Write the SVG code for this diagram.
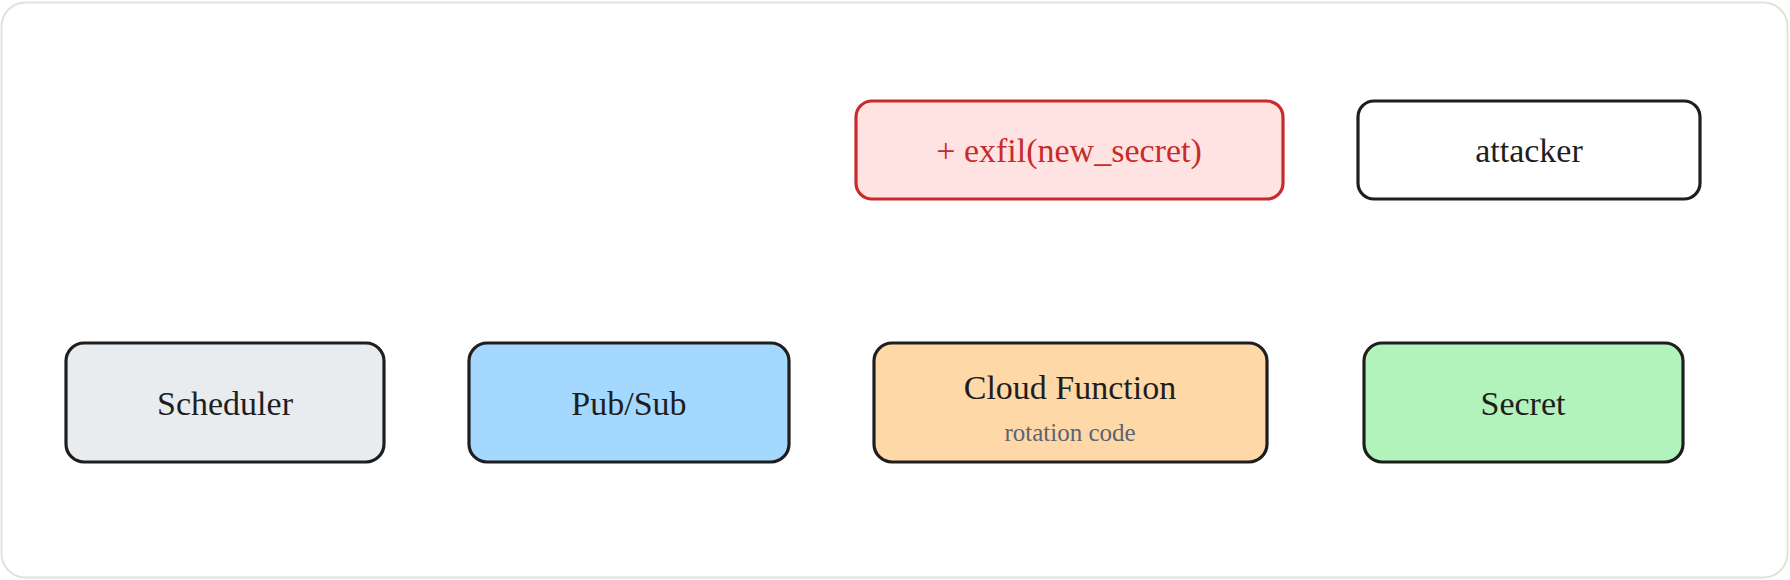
<svg xmlns="http://www.w3.org/2000/svg" width="1790" height="580" viewBox="0 0 1790 580">
<style>
.n{stroke:#1e1e1e;stroke-width:3.2}
.t{font-family:"Liberation Serif",serif;font-size:34px;fill:#1e1e1e;text-anchor:middle;dominant-baseline:central}
.s{font-family:"Liberation Serif",serif;font-size:25px;fill:#5c6470;text-anchor:middle;dominant-baseline:central}
</style>
<rect x="1.5" y="2.5" width="1786" height="575" rx="24" fill="#fff" stroke="#e2e2da" stroke-width="2"/>
<g id="connectors"></g>
<g id="exfil"><rect x="856" y="101" width="427" height="98" rx="16" fill="#ffe3e3" stroke="#c92a2a" stroke-width="3.2"/><text class="t" x="1069" y="150" style="fill:#c92a2a">+ exfil(new_secret)</text></g>
<g id="attacker"><rect class="n" x="1358" y="101" width="342" height="98" rx="16" fill="#fff"/><text class="t" x="1529" y="150">attacker</text></g>
<g id="scheduler"><rect class="n" x="66" y="343" width="318" height="119" rx="18" fill="#e9ecef"/><text class="t" x="225" y="403">Scheduler</text></g>
<g id="pubsub"><rect class="n" x="469" y="343" width="320" height="119" rx="18" fill="#a5d8ff"/><text class="t" x="629" y="403">Pub/Sub</text></g>
<g id="cloudfunction"><rect class="n" x="874" y="343" width="393" height="119" rx="18" fill="#ffd8a8"/><text class="t" x="1070" y="387">Cloud Function</text><text class="s" x="1070" y="432">rotation code</text></g>
<g id="secret"><rect class="n" x="1364" y="343" width="319" height="119" rx="18" fill="#b2f2bb"/><text class="t" x="1523" y="403">Secret</text></g>
</svg>
